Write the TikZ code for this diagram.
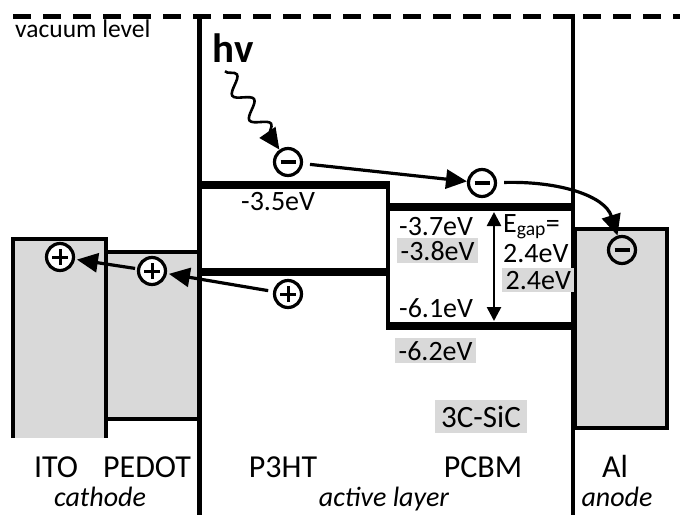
\documentclass[tikz,border=0pt]{standalone}
\usepackage{fontspec}
\setmainfont{Carlito}
\definecolor{LayerGray}{RGB}{217, 217, 217}
\usetikzlibrary{arrows.meta, decorations.pathmorphing}
\newcommand{\fsz}[1]{\fontsize{#1}{#1}\selectfont}

\begin{document}
\begin{tikzpicture}[x=1pt, y=-1pt, >={Triangle[length=21pt, width=19pt]},
        band/.style={line width=7.5pt},
        wall/.style={line width=3.4pt},
        carrier/.style={circle, draw, line width=3.2pt, minimum size=27pt, inner sep=0pt},
        elec/.style={carrier, path picture={
            \draw[line width=4.4pt] ([xshift=-7.5pt]path picture bounding box.center) -- ([xshift=7.5pt]path picture bounding box.center);}},
        hole/.style={carrier, fill=white, path picture={
            \draw[line width=3pt] ([xshift=-8pt]path picture bounding box.center) -- ([xshift=8pt]path picture bounding box.center)
                ([yshift=-8pt]path picture bounding box.center) -- ([yshift=8pt]path picture bounding box.center);}},
        flow/.style={line width=3.2pt, ->},
        ev/.style={font=\fsz{28}, inner sep=0pt, anchor=base west},
        sicbox/.style={ev, fill=LayerGray, inner xsep=3.5pt, inner ysep=2.8pt},
        mat/.style={font=\fsz{32}, anchor=base},
        role/.style={font=\fsz{28}\itshape, anchor=base}]
    \useasboundingbox (0,0) rectangle (680,515);
    % vacuum level
    \draw[line width=5pt, dash pattern=on 18pt off 12pt] (13,16) -- (680,16);
    \node[font=\fsz{25.5}, anchor=base west, inner sep=0pt] (vac) at (15,37) {vacuum level};
    % electrodes
    \fill[LayerGray] (13,239) rectangle (106,438);
    \draw[wall] (13,438) -- (13,239) -- (106,239) -- (106,438);
    \filldraw[wall, fill=LayerGray] (106,252) rectangle (199,419);
    \filldraw[wall, fill=LayerGray] (575,229) rectangle (667,428);
    % active layer borders
    \draw[line width=5pt] (199,14) -- (199,515);
    \draw[line width=4pt] (573,14) -- (573,515);
    % P3HT levels
    \draw[band] (199,185) -- (390,185);
    \draw[band] (199,272) -- (390,272);
    % PCBM levels
    \draw[line width=4.5pt] (388,185) -- (388,326);
    \draw[band] (386,207) -- (573,207);
    \draw[band] (386,326) -- (573,326);
    % energies
    \node[ev] (p3lumo) at (241,210) {-3.5eV};
    \node[ev] (pclumo) at (399,235) {-3.7eV};
    \node[sicbox] (siclumo) at (397,260) {-3.8eV};
    \node[ev] (pchomo) at (399,317) {-6.1eV};
    \node[sicbox] (sichomo) at (395,360) {-6.2eV};
    \node[ev] (gap) at (503,232) {E\textsubscript{gap}=};
    \node[ev] (gapval) at (503,262) {2.4eV};
    \node[sicbox] (gapsic) at (502,289) {2.4eV};
    \node[sicbox, font=\fsz{31}, inner xsep=6pt, inner ysep=5.4pt] (sic) at (435,427) {3C-SiC};
    % band gap arrow
    \coordinate (gaptop) at (494,212);
    \coordinate (gapbot) at (494,321);
    \draw[line width=2.6pt, {Triangle[length=14pt, width=14pt]}-{Triangle[length=14pt, width=14pt]}] (gaptop) -- (gapbot);
    % charges
    \node[elec] (e1) at (288,162) {};
    \node[elec] (e2) at (482,183) {};
    \node[elec] (e3) at (622,250) {};
    \node[hole] (h1) at (60,257) {};
    \node[hole] (h2) at (152,271) {};
    \node[hole] (h3) at (288,294) {};
    % photon
    \node[font=\fsz{41}\bfseries, inner sep=0pt, anchor=base] (hv) at (233,62) {hv};
    \coordinate (hvtail) at ([xshift=-8pt, yshift=-9pt]hv.south);
    \draw[line width=2.6pt, ->, decorate, decoration={snake, segment length=30pt, amplitude=8pt, post length=14pt}] (hvtail) -- (e1);
    % transport
    \draw[flow, shorten <=7pt] (e1) -- (e2);
    \draw[flow, shorten <=7pt] (e2) .. controls (560,181) and (605,196) .. (e3);
    \draw[flow, shorten <=5pt, shorten >=2pt] (h3) -- (h2);
    \draw[flow, shorten <=2pt, shorten >=2pt] (h2) -- (h1);
    % layer names
    \foreach \x/\lbl in {56/ITO, 147/PEDOT, 283/P3HT, 483/PCBM, 615/Al} {
        \node[mat] (mat-\lbl) at (\x,477) {\lbl};
    }
    \node[role] (cathode) at (100,506) {cathode};
    \node[role] (active) at (384,506) {active layer};
    \node[role] (anode) at (617,506) {anode};
\end{tikzpicture}
\end{document}
